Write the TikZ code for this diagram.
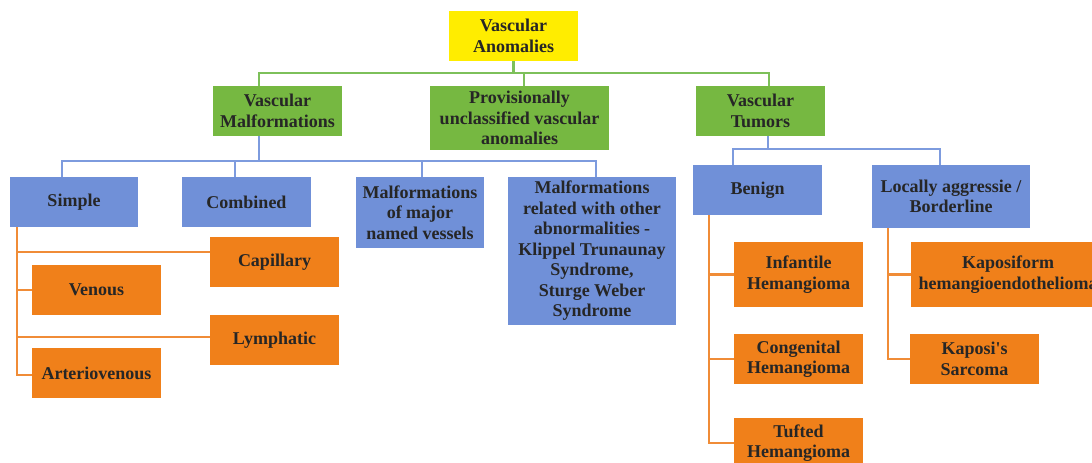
\documentclass[tikz,border=0pt]{standalone}
\usepackage{fontspec}
\setmainfont{Liberation Serif}
\definecolor{yel}{RGB}{255,237,0}
\definecolor{grn}{RGB}{118,184,65}
\definecolor{blu}{RGB}{112,144,216}
\definecolor{org}{RGB}{240,128,26}
\definecolor{txt}{RGB}{38,38,38}
\definecolor{grnln}{RGB}{125,192,90}
\definecolor{bluln}{RGB}{125,155,222}
\definecolor{orgln}{RGB}{240,140,55}
\begin{document}
\begin{tikzpicture}[x=1pt,y=-1pt,
	every node/.style={rectangle,inner sep=0pt,align=center,text=txt,
		font=\fontsize{18}{20.5}\selectfont\bfseries,
		minimum width=129pt,minimum height=50pt},
	yb/.style={fill=yel},gb/.style={fill=grn},bb/.style={fill=blu},ob/.style={fill=org},
	gl/.style={draw=grnln,line width=2.3pt},
	bl/.style={draw=bluln,line width=2.3pt},
	ol/.style={draw=orgln,line width=2.3pt}]
		\useasboundingbox (0,0) rectangle (1092,463);
		\clip (0,0) rectangle (1092,463);
		% top
		\node[yb] (va) at (513.5,36){Vascular\\Anomalies};
		\node[gb] (vm) at (277.5,111){Vascular\\Malformations};
		\node[gb,minimum width=179pt,minimum height=64pt] (pu) at (519.5,118){Provisionally\\unclassified vascular\\anomalies};
		\node[gb] (vt) at (760.5,111){Vascular\\Tumors};
		% malformations
		\node[bb,minimum width=128pt] (s) at (74,202){Simple};
		\node[bb] (c) at (246.5,202){Combined};
		\node[bb,minimum width=128pt,minimum height=71pt] (mv) at (420,212.5){Malformations\\of major\\named vessels};
		\node[bb,minimum width=168pt,minimum height=148pt] (mo) at (592,251){Malformations\\related with other\\abnormalities -\\Klippel Trunaunay\\Syndrome,\\Sturge Weber\\Syndrome};
		\node[ob] (s1) at (274.5,262){Capillary};
		\node[ob] (s2) at (96.5,290){Venous};
		\node[ob] (s3) at (274.5,340){Lymphatic};
		\node[ob] (s4) at (96.5,373){Arteriovenous};
		% tumors
		\node[bb] (b) at (757.5,190){Benign};
		\node[bb,minimum width=158pt,minimum height=63pt] (l) at (951,196.5){Locally aggressie /\\Borderline};
		\node[ob,minimum height=65pt] (b1) at (798.5,274.5){Infantile\\Hemangioma};
		\node[ob] (b2) at (798.5,359){Congenital\\Hemangioma};
		\node[ob] (b3) at (798.5,443){Tufted\\Hemangioma};
		\node[ob,minimum width=194pt,minimum height=65pt] (l1) at (1008,274.5){Kaposiform\\hemangioendothelioma};
		\node[ob] (l2) at (974.5,359){Kaposi\textquotesingle s\\Sarcoma};
		% lines
		\draw[gl] (va.south) ++(0,12) -| ([xshift=-18.5pt]vm.north);
		\draw[gl] (va.south) ++(0,12) -| ([xshift=8.5pt]vt.north);
		\draw[gl] (va.south) -- ++(0,12) -| ([xshift=4.5pt]pu.north);
		\foreach \n/\d in {s/-12,c/-11.5,mv/2,mo/4}
			\draw[bl] ([xshift=-18.5pt]vm.south) -- ++(0,25) -| ([xshift=\d pt]\n.north);
		\foreach \n/\d in {b/-24.5,l/-11}
			\draw[bl] ([xshift=7.5pt]vt.south) -- ++(0,13) -| ([xshift=\d pt]\n.north);
		\foreach \n/\d in {s1/10,s2/0,s3/3,s4/-2}
			\draw[ol] ([xshift=-57pt]s.south) |- ([yshift=\d pt]\n.west);
		\foreach \n in {b1,b2,b3}
			\draw[ol] ([xshift=-48.5pt]b.south) |- (\n.west);
		\foreach \n in {l1,l2}
			\draw[ol] ([xshift=-63pt]l.south) |- (\n.west);
\end{tikzpicture}
\end{document}
